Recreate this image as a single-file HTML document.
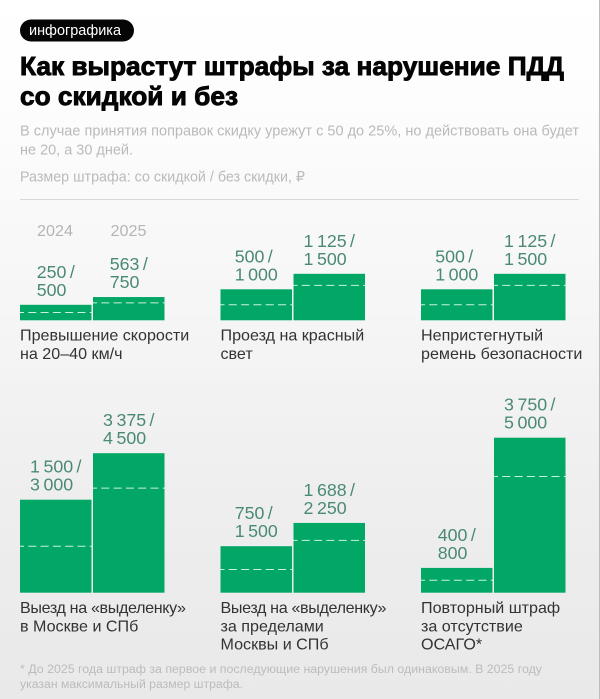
<!DOCTYPE html>
<html lang="ru">
<head>
<meta charset="utf-8">
<title>Как вырастут штрафы за нарушение ПДД со скидкой и без</title>
<style>
html,body{margin:0;padding:0;width:600px;height:699px;overflow:hidden;background:#fff}
#art{position:absolute;left:0;top:0;width:600px;height:699px;background:linear-gradient(180deg,#fff 0,#fdfdfd 100px,#f6f6f6 300px,#eeeeee 500px,#e9e9e9 699px)}
#edge{position:absolute;left:599px;top:0;width:1px;height:699px;background:#bdbdbd}
svg{position:absolute;left:0;top:0}
text{font-family:"Liberation Sans","DejaVu Sans",sans-serif}
</style>
</head>
<body>
<div id="art"></div>
<div id="edge"></div>
<svg id="chart" width="600" height="699" viewBox="0 0 600 699">
  <rect x="20" y="19.5" width="114" height="22" rx="11" fill="#050505"/>
  <text x="29" y="35" font-size="14.5" fill="#fff" textLength="92" lengthAdjust="spacingAndGlyphs">инфографика</text>
  <text x="20" y="75" font-size="26" font-weight="700" fill="#050505" stroke="#050505" stroke-width="0.9" textLength="544" lengthAdjust="spacingAndGlyphs">Как вырастут штрафы за нарушение ПДД</text>
  <text x="20" y="105" font-size="26" font-weight="700" fill="#050505" stroke="#050505" stroke-width="0.9" textLength="218" lengthAdjust="spacingAndGlyphs">со скидкой и без</text>
  <text x="20" y="135.5" font-size="14.5" fill="#bababa" textLength="559" lengthAdjust="spacingAndGlyphs">В случае принятия поправок скидку урежут с 50 до 25%, но действовать она будет</text>
  <text x="20" y="154.5" font-size="14.5" fill="#bababa" textLength="113" lengthAdjust="spacingAndGlyphs">не 20, а 30 дней.</text>
  <text x="20" y="181.5" font-size="14.5" fill="#bababa" textLength="285" lengthAdjust="spacingAndGlyphs">Размер штрафа: со скидкой / без скидки, ₽</text>
  <line x1="20" y1="199.5" x2="579" y2="199.5" stroke="#d9d9d9" stroke-width="1"/>
  <text x="37" y="236" font-size="15.5" fill="#b5b5b5" textLength="36" lengthAdjust="spacingAndGlyphs">2024</text>
  <text x="110.5" y="236" font-size="15.5" fill="#b5b5b5" textLength="36" lengthAdjust="spacingAndGlyphs">2025</text>
  <g id="marks"></g>
  <text x="20" y="673" font-size="11.5" fill="#bcbcbc" textLength="522" lengthAdjust="spacingAndGlyphs">* До 2025 года штраф за первое и последующие нарушения был одинаковым. В 2025 году</text>
  <text x="20" y="688" font-size="11.5" fill="#bcbcbc" textLength="223" lengthAdjust="spacingAndGlyphs">указан максимальный размер штрафа.</text>
</svg>
<script>
// Fine values, rubles
const categories = [
  ["Превышение скорости", "на 20–40 км/ч"],
  ["Проезд на красный", "свет"],
  ["Непристегнутый", "ремень безопасности"],
  ["Выезд на «выделенку»", "в Москве и СПб"],
  ["Выезд на «выделенку»", "за пределами", "Москвы и СПб"],
  ["Повторный штраф", "за отсутствие", "ОСАГО*"]
];
const discounted2024 = [250, 500, 500, 1500, 750, 400];
const full2024 = [500, 1000, 1000, 3000, 1500, 800];
const discounted2025 = [563, 1125, 1125, 3375, 1688, 3750];
const full2025 = [750, 1500, 1500, 4500, 2250, 5000];

const svgNS = "http://www.w3.org/2000/svg";
const marks = document.getElementById("marks");
const yScale = v => v * 0.031;
const columnX = i => 20 + (i % 3) * 200.5;
const baselineY = i => i < 3 ? 320.3 : 592.7;
const fmt = v => String(v).replace(/\B(?=(\d{3})+$)/g, "\u2009");

function make(tag, attrs, parent) {
  const el = document.createElementNS(svgNS, tag);
  for (const k in attrs) el.setAttribute(k, attrs[k]);
  parent.appendChild(el);
  return el;
}

function drawBar(i, offset, disc, full, key) {
  const x = columnX(i) + offset, base = baselineY(i), w = 71.5;
  const top = base - yScale(full);
  const bar = make("rect", {x: x, y: top, width: w, height: yScale(full), fill: "#03a765"}, marks);
  
  
  const dash = make("line", {x1: x, x2: x + w + 1, y1: base - yScale(disc), y2: base - yScale(disc),
    stroke: "#c9f2df", "stroke-width": 1, "stroke-dasharray": "8 4.3", "stroke-dashoffset": 4}, marks);
  
  
  const t1 = make("text", {x: x, y: top - 27, "font-size": 17.8, fill: "#4a8a72", "word-spacing": "-1.5px"}, marks);
  t1.textContent = fmt(disc) + " /";
  
  
  const t2 = make("text", {x: x, y: top - 9, "font-size": 17.8, fill: "#4a8a72"}, marks);
  t2.textContent = fmt(full);
  
  
  // value block is left-aligned and centred over its bar
  const blockW = Math.max(t1.getComputedTextLength(), t2.getComputedTextLength());
  const blockX = x + (w - blockW) / 2;
  t1.setAttribute("x", blockX);
  t2.setAttribute("x", blockX);
}

categories.forEach((lines, i) => {
  drawBar(i, 0, discounted2024[i], full2024[i], "2024");
  drawBar(i, 73, discounted2025[i], full2025[i], "2025");
  lines.forEach((line, n) => {
    const label = make("text", {x: columnX(i), y: baselineY(i) + 20.4 + n * 18.3, "font-size": 16.1, fill: "#333333"}, marks);
    label.textContent = line;
    if (line.includes("«")) label.setAttribute("letter-spacing", "-0.35");
    
    
  });
});
</script>
</body>
</html>
